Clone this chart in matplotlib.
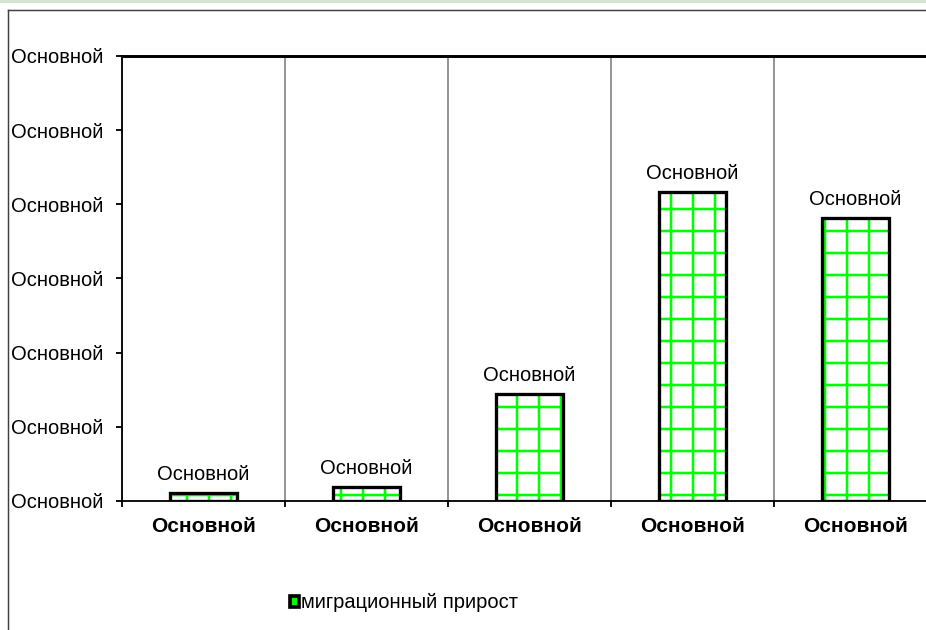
import numpy as np
import matplotlib
matplotlib.use('Agg')
import matplotlib.pyplot as plt
from matplotlib.patches import Patch, Rectangle
from matplotlib.lines import Line2D

# data (axis in tick-units, all labels are the placeholder)
categories = ['Основной', 'Основной', 'Основной', 'Основной', 'Основной']
values = [0.11, 0.19, 1.44, 4.16, 3.82]
bar_labels = ['Основной', 'Основной', 'Основной', 'Основной', 'Основной']
yticks = [0, 1, 2, 3, 4, 5, 6]
ytick_labels = ['Основной'] * 7
series_name = 'миграционный прирост'

DPI = 132
plt.rcParams['font.family'] = ['Liberation Sans', 'DejaVu Sans']
plt.rcParams['hatch.linewidth'] = 1.4
fs = 11
fsb = 11.4

fig = plt.figure(figsize=(926 / DPI, 630 / DPI), dpi=DPI)
W, H = 926, 630

# chart frame like the spreadsheet export
fig.patches.append(Rectangle((0, 1 - 3 / H), 1, 3 / H, transform=fig.transFigure,
                             facecolor='#d5e6d2', edgecolor='none'))
fig.lines.append(Line2D([8 / W, 8 / W], [-0.05, 1 - 10 / H], transform=fig.transFigure,
                        color='#404040', linewidth=0.8))
fig.lines.append(Line2D([8 / W, 1.05], [1 - 10 / H, 1 - 10 / H], transform=fig.transFigure,
                        color='#404040', linewidth=0.8, clip_on=False))

ax = fig.add_axes([122 / W, 1 - 501 / H, 815 / W, 445 / H])
x = np.arange(len(values))
bw = 0.405

ax.bar(x, values, width=bw, color='white', edgecolor='#00ff00', linewidth=0,
       hatch='+', zorder=2)
ax.bar(x, values, width=bw, fill=False, edgecolor='black', linewidth=1.8, zorder=3)

for xi, v, lab in zip(x, values, bar_labels):
    ax.annotate(lab, (xi, v), xytext=(0, 5), textcoords='offset points',
                ha='center', va='bottom', fontsize=fs)

ax.set_xlim(-0.5, len(values) - 0.5)
ax.set_ylim(0, 6)
ax.set_yticks(yticks)
ax.set_yticklabels(ytick_labels, fontsize=fs)
ax.set_xticks(x)
ax.set_xticklabels(categories, fontsize=fsb, fontweight='bold')
# last boundary falls off the canvas, leave it out
ax.set_xticks(np.arange(-0.5, len(values) - 1), minor=True)
ax.tick_params(axis='x', which='major', length=0, pad=9)
ax.tick_params(axis='x', which='minor', length=3.3, width=1, direction='out')
ax.tick_params(axis='y', length=3.3, width=1, pad=7)
ax.grid(True, axis='x', which='minor', color='#808080', linewidth=0.9)
ax.set_axisbelow(True)

for s in ['left', 'bottom']:
    ax.spines[s].set_linewidth(1.0)
ax.spines['top'].set_linewidth(1.6)
ax.spines['right'].set_visible(False)

fig.legend(handles=[Patch(facecolor='#00ff00', edgecolor='black', linewidth=2.0)],
           labels=[series_name], loc='center left',
           bbox_to_anchor=(272 / W, 1 - 603 / H), frameon=False, fontsize=fs,
           handlelength=0.45, handleheight=0.45, handletextpad=0.1)

fig.savefig('out.png', dpi=DPI)
